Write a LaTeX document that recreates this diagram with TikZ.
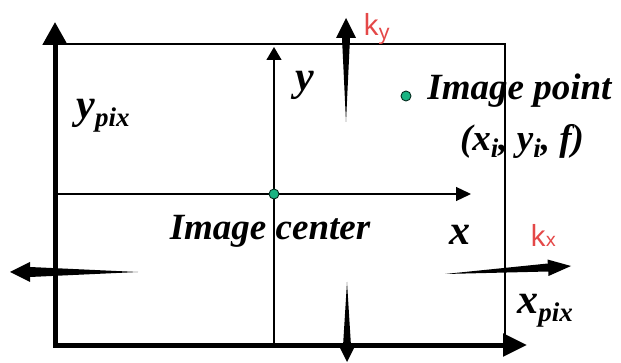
\documentclass[tikz,border=0pt]{standalone}
\usepackage{fontspec}
\setmainfont{Liberation Serif}[BoldFont={Liberation Serif Bold}, ItalicFont={Liberation Serif Italic}, BoldItalicFont={Liberation Serif Bold Italic}]
\newfontfamily\ksans{Noto Sans}
\usetikzlibrary{arrows.meta}
\definecolor{dotgreen}{RGB}{25,180,130}
\definecolor{kred}{RGB}{228,72,72}
\newcommand{\lowsub}[2][8pt]{\raisebox{-#1}{\fontsize{27}{28}\selectfont #2}}

\begin{document}
\begin{tikzpicture}[x=1pt, y=-1pt, thick,
    lbl/.style={font=\fontsize{37}{40}\selectfont\bfseries\itshape, inner sep=0pt},
    axlbl/.style={font=\fontsize{42}{44}\selectfont\bfseries\itshape, inner sep=0pt},
    klbl/.style={font=\fontsize{29}{30}\selectfont\ksans, text=kred, inner sep=0pt},
    dotpt/.style={circle, draw=black!75!dotgreen, fill=dotgreen, line width=0.9pt, inner sep=0pt, minimum size=10pt}]
    \useasboundingbox (0,0) rectangle (621,363);

    % image frame
    \draw[line width=1.3pt] (55,44) -- (505,44) -- (505,345);

    % image axes x, y
    \draw[line width=1.3pt, -{Triangle[length=13pt, width=15pt]}] (274,345) -- (274,47);
    \draw[line width=1.3pt, -{Triangle[length=15pt, width=14pt]}] (55,194) -- (471,194);

    % pixel axes
    \draw[line width=5pt, {Triangle[length=23pt, width=24pt]}-{Triangle[length=24pt, width=22pt]}]
        (55,22) -- (55,345) -- (527,345);

    % tapered arrows
    \fill (346,122) -- (350,38) -- (356,38) -- (346,18) -- (336,38) -- (342,38) -- cycle;
    \fill (347,282) -- (351,346) -- (355,346) -- (347,362) -- (339,346) -- (343,346) -- cycle;
    \fill (138,272) -- (30,267) -- (30,262) -- (10,272) -- (30,282) -- (30,277) -- cycle;
    \fill (445,274) -- (548.3,271.5) -- (548.5,276) -- (571,266) -- (547.5,259.5) -- (547.8,263.5) -- cycle;

    % points
    \node[dotpt] (center) at (274,194) {};
    \node[dotpt] (imgpt) at (406,96) {};

    % labels
    \node[axlbl, anchor=base west] (ypix) at (76,119) {y\lowsub{pix}};
    \node[axlbl, anchor=base west] (ylbl) at (295,91) {y};
    \node[lbl, anchor=base west] (ptlbl) at (427,100) {Image point};
    \node[lbl, anchor=base] (ptcoord) at (522,151) {(x\lowsub[7pt]{i}, y\lowsub[7pt]{i}, f)};
    \node[lbl, anchor=base] (ctrlbl) at (270,240) {Image center};
    \node[axlbl, anchor=base] (xlbl) at (460,245) {x};
    \node[axlbl, anchor=base west] (xpix) at (517,313) {x\lowsub{pix}};
    \node[klbl, anchor=base west] (ky) at (363,36) {k\raisebox{-4pt}{\fontsize{21}{22}\selectfont y}};
    \node[klbl, anchor=base west] (kx) at (530,247) {k{\fontsize{19}{20}\selectfont x}};
\end{tikzpicture}
\end{document}
